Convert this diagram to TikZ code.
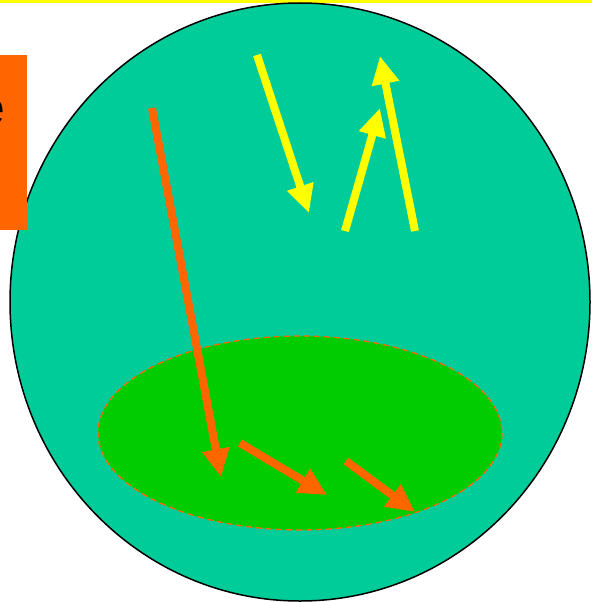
\documentclass[tikz,border=0pt]{standalone}
\usepackage{fontspec}
\setmainfont{Liberation Sans}
\usetikzlibrary{arrows.meta}
\definecolor{teal1}{HTML}{00CC99}
\definecolor{green1}{HTML}{00CC00}
\definecolor{orange1}{HTML}{FF6600}
\definecolor{yellow1}{HTML}{FFFF00}
\tikzset{
  movearrow/.style={line width=8pt, -{Triangle[length=28pt,width=26pt]}},
  orangearrow/.style={movearrow, draw=orange1, fill=orange1},
  yellowarrow/.style={movearrow, draw=yellow1, fill=yellow1},
}
\begin{document}
\begin{tikzpicture}[x=1pt,y=-1pt]
\useasboundingbox (0,0) rectangle (592,602);
\clip (0,0) rectangle (592,602);
\fill[white] (0,0) rectangle (592,602);
\fill[yellow1] (0,0) rectangle (592,3.5);
% big cell
\draw[fill=teal1, line width=1.5pt] (300,302) ellipse [x radius=290, y radius=299];
% inner region
\draw[fill=green1, draw=orange1, line width=1.3pt, dash pattern=on 6pt off 4pt] (300,433) ellipse [x radius=202, y radius=97];
% side label box
\fill[orange1] (0,55) rectangle (27,230);
\node[anchor=base east, inner sep=0pt, font=\fontsize{48}{50}\selectfont] (lbl) at (5,124) {e};
% coordinates
\coordinate (o1s) at (152,108);
\coordinate (o1e) at (221,477);
\coordinate (o2s) at (240,443);
\coordinate (o2e) at (327,495);
\coordinate (o3s) at (346,461);
\coordinate (o3e) at (415,512);
\coordinate (y1s) at (257,55);
\coordinate (y1e) at (309,213);
\coordinate (y2s) at (345,231);
\coordinate (y2e) at (380,108);
\coordinate (y3s) at (415,231);
\coordinate (y3e) at (380,56);
\draw[orangearrow] (o1s) -- (o1e);
\draw[orangearrow] (o2s) -- (o2e);
\draw[orangearrow] (o3s) -- (o3e);
\draw[yellowarrow] (y1s) -- (y1e);
\draw[yellowarrow] (y2s) -- (y2e);
\draw[yellowarrow] (y3s) -- (y3e);
\end{tikzpicture}
\end{document}
